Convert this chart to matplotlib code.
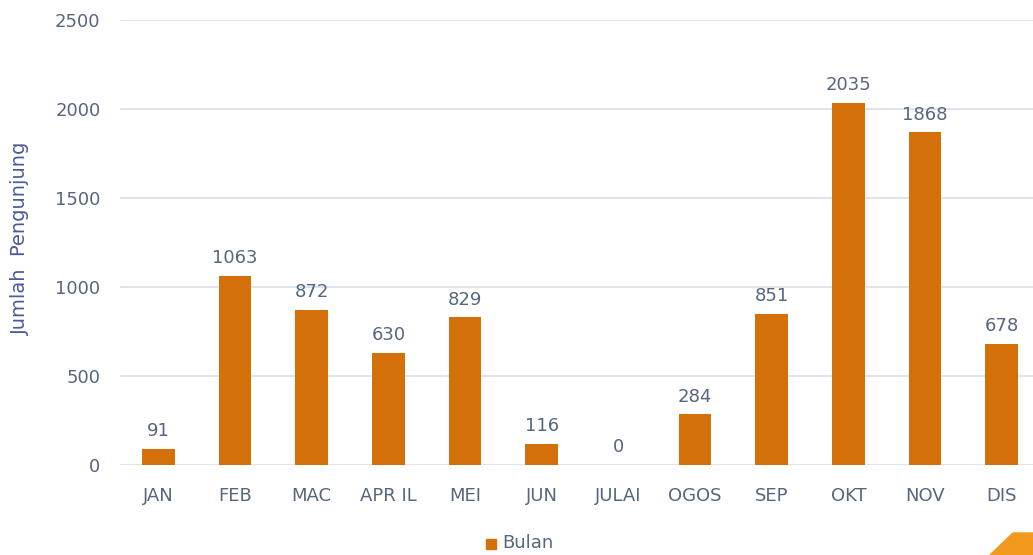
import matplotlib
matplotlib.use("Agg")
import matplotlib.pyplot as plt
from matplotlib.patches import Polygon, Rectangle

bulan = ["JAN", "FEB", "MAC", "APR IL", "MEI", "JUN", "JULAI", "OGOS", "SEP", "OKT", "NOV", "DIS"]
pengunjung = [91, 1063, 872, 630, 829, 116, 0, 284, 851, 2035, 1868, 678]
y_ticks = [0, 500, 1000, 1500, 2000, 2500]

bar_color = "#D4700A"
text_color = "#56667F"
grid_color = "#D9DEE8"

plt.rcParams["font.family"] = ["DejaVu Sans"]

W, H = 1033, 555
fig = plt.figure(figsize=(W / 100, H / 100), dpi=100)
# axes extends past the right edge, like the cropped original
left, right = 120, 1040
bottom, top = 465, 20
ax = fig.add_axes([left / W, 1 - bottom / H, (right - left) / W, (bottom - top) / H])

x = list(range(len(bulan)))
ax.bar(x, pengunjung, width=0.43, color=bar_color, zorder=3)
ax.set_xlim(-0.5, len(bulan) - 0.5)
ax.set_ylim(0, 2500)
ax.set_yticks(y_ticks)
ax.set_xticks(x, bulan)
ax.grid(axis="y", color=grid_color, linewidth=1.2, zorder=0)
for s in ax.spines.values():
    s.set_visible(False)
ax.tick_params(length=0, labelsize=13, colors=text_color)
ax.tick_params(axis="y", pad=14)
ax.tick_params(axis="x", pad=16)

for xi, v in zip(x, pengunjung):
    ax.text(xi, v + 50, str(v), ha="center", va="bottom", fontsize=13, color=text_color)

fig.text(20 / W, 1 - 238 / H, "Jumlah  Pengunjung", rotation=90, ha="center", va="center",
         fontsize=14, color="#4A5B9A")

# legend
fig.patches.append(Rectangle((486 / W, 1 - 549 / H), 10 / W, 10 / H, transform=fig.transFigure,
                             color=bar_color))
fig.text(502 / W, 1 - 543 / H, "Bulan", ha="left", va="center", fontsize=13, color=text_color)

# decorative corner shape
corner = [(990, 555), (1013, 533), (1033, 533), (1033, 555)]
fig.patches.append(Polygon([(px / W, 1 - py / H) for px, py in corner], closed=True,
                           transform=fig.transFigure, color="#F39A1E"))

fig.savefig("out.png", dpi=100)
